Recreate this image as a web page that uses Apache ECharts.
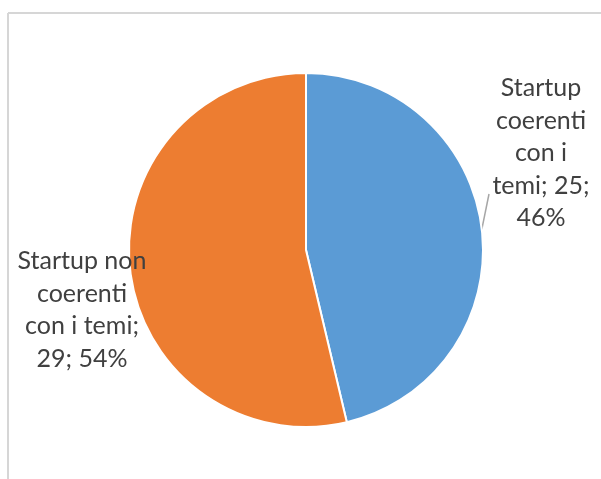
<!DOCTYPE html>
<html>
<head>
<meta charset="utf-8">
<script src="https://cdn.jsdelivr.net/npm/echarts@6/dist/echarts.min.js"></script>
<style>
  html, body { margin: 0; padding: 0; background: #fff; }
  #chart { width: 601px; height: 479px; }
</style>
</head>
<body>
<div id="chart"></div>
<script>
// Startup split by thematic coherence
const categories = ['Startup coerenti con i temi', 'Startup non coerenti con i temi'];
const counts = [25, 29];
const labelLines = [
  ['Startup', 'coerenti', 'con i', 'temi; {v};', '{p}%'],
  ['Startup non', 'coerenti', 'con i temi;', '{v}; {p}%']
];
const colors = ['#5B9BD5', '#ED7D31'];

// label anchor centres (pixels)
const labelCenters = [[541, 153], [82, 310]];
// end of the leader line for the first slice
const leaderEnd = [489, 194];

const chart = echarts.init(document.getElementById('chart'), null, { renderer: 'canvas' });

chart.setOption({
  backgroundColor: '#ffffff',
  animation: false,
  graphic: [
    { type: 'line', shape: { x1: 8, y1: 13, x2: 601, y2: 13 }, style: { stroke: '#d6d6d6', lineWidth: 2 } },
    { type: 'line', shape: { x1: 8, y1: 13, x2: 8, y2: 479 }, style: { stroke: '#d6d6d6', lineWidth: 2 } }
  ],
  series: [{
    type: 'pie',
    center: [306, 250],
    radius: 177,
    startAngle: 90,
    clockwise: true,
    itemStyle: { borderColor: '#ffffff', borderWidth: 2 },
    label: {
      show: true,
      color: '#404040',
      fontFamily: 'Lato',
      fontSize: 25,
      lineHeight: 32.5,
      align: 'center',
      overflow: 'none',
      formatter: function (p) {
        return labelLines[p.dataIndex].join('\n')
          .replace('{v}', p.value)
          .replace('{p}', Math.round(p.percent));
      }
    },
    labelLine: { show: true, length: 8, length2: 0, lineStyle: { color: '#a6a6a6', width: 1.5 } },
    labelLayout: function (params) {
      const c = labelCenters[params.dataIndex];
      const out = { x: c[0], y: c[1], align: 'center', verticalAlign: 'middle' };
      if (params.dataIndex === 0 && params.labelLinePoints) {
        out.labelLinePoints = [params.labelLinePoints[0], leaderEnd];
      }
      return out;
    },
    data: categories.map(function (name, i) {
      return {
        name: name,
        value: counts[i],
        itemStyle: { color: colors[i] },
        labelLine: { show: i === 0 }
      };
    })
  }]
});
</script>
</body>
</html>
